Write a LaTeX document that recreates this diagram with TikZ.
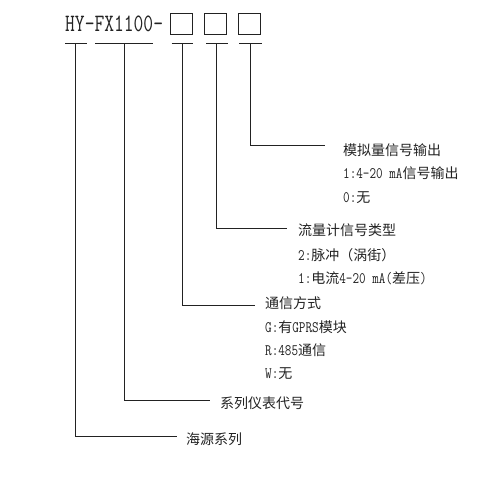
\documentclass[tikz,border=0pt]{standalone}
\usepackage{fontspec}
\setmainfont{Latin Modern Mono}[FakeStretch=0.8]
\newfontfamily\titlefont{Latin Modern Mono}[FakeStretch=0.76]
\newfontfamily\cjkfont{Noto Sans CJK SC}
\newcommand{\cn}[1]{{\cjkfont\fontsize{14}{14}\selectfont #1}}
\definecolor{ink}{HTML}{222222}
\begin{document}
\begin{tikzpicture}[x=1pt,y=-1pt,
  lbl/.style={anchor=west,inner sep=0pt,text=ink,font=\fontsize{16}{16}\selectfont},
  sel/.style={draw=ink,line width=0.9pt,minimum width=22pt,minimum height=21pt,inner sep=0pt},
  conn/.style={draw=ink,line width=0.9pt}]
\useasboundingbox (0,0) rectangle (498,489);
% title and boxes
\node[anchor=base west,inner sep=0pt,text=ink,font=\titlefont\fontsize{25}{25}\selectfont] (title) at (65,31.7) {HY-FX1100-};
\node[sel] (b1) at (181.3,23.5) {};
\node[sel] (b2) at (215.3,23.5) {};
\node[sel] (b3) at (249.3,23.5) {};
% T-bars
\coordinate (t1l) at (65,43.3);  \coordinate (t1r) at (86.7,43.3);  \coordinate (t1) at (75,43.3);
\coordinate (t2l) at (95,43.3);  \coordinate (t2r) at (153,43.3);   \coordinate (t2) at (124.3,43.3);
\coordinate (t3l) at (171.7,43.3); \coordinate (t3r) at (193.3,43.3); \coordinate (t3) at (182.3,43.3);
\coordinate (t4l) at (206,43.3); \coordinate (t4r) at (227.7,43.3); \coordinate (t4) at (216.7,43.3);
\coordinate (t5l) at (239,43.3); \coordinate (t5r) at (261.7,43.3); \coordinate (t5) at (250.7,43.3);
\foreach \i in {1,...,5} {\draw[conn] (t\i l) -- (t\i r);}
% line ends
\coordinate (e5) at (325,145);
\coordinate (e4) at (286.7,228);
\coordinate (e3) at (255,305);
\coordinate (e2) at (210,400);
\coordinate (e1) at (176.7,436.7);
\foreach \i in {1,...,5} {\draw[conn] (t\i) |- (e\i);}
% labels
\node[lbl] (l5a) at (343,150) {\cn{模拟量信号输出}};
\node[lbl] (l5b) at (343,173) {1:4-20 mA\cn{信号输出}};
\node[lbl] (l5c) at (343,198) {0:\cn{无}};
\node[lbl] (l4a) at (298,230) {\cn{流量计信号类型}};
\node[lbl] (l4b) at (298,255) {2:\cn{脉冲（涡街）}};
\node[lbl] (l4c) at (298,278) {1:\cn{电流}4-20 mA(\cn{差压})};
\node[lbl] (l3a) at (265,303) {\cn{通信方式}};
\node[lbl] (l3b) at (265,326.7) {G:\cn{有}GPRS\cn{模块}};
\node[lbl] (l3c) at (265,350) {R:485\cn{通信}};
\node[lbl] (l3d) at (265,374) {W:\cn{无}};
\node[lbl] (l2) at (220,403) {\cn{系列仪表代号}};
\node[lbl] (l1) at (186,439) {\cn{海源系列}};
\end{tikzpicture}
\end{document}
